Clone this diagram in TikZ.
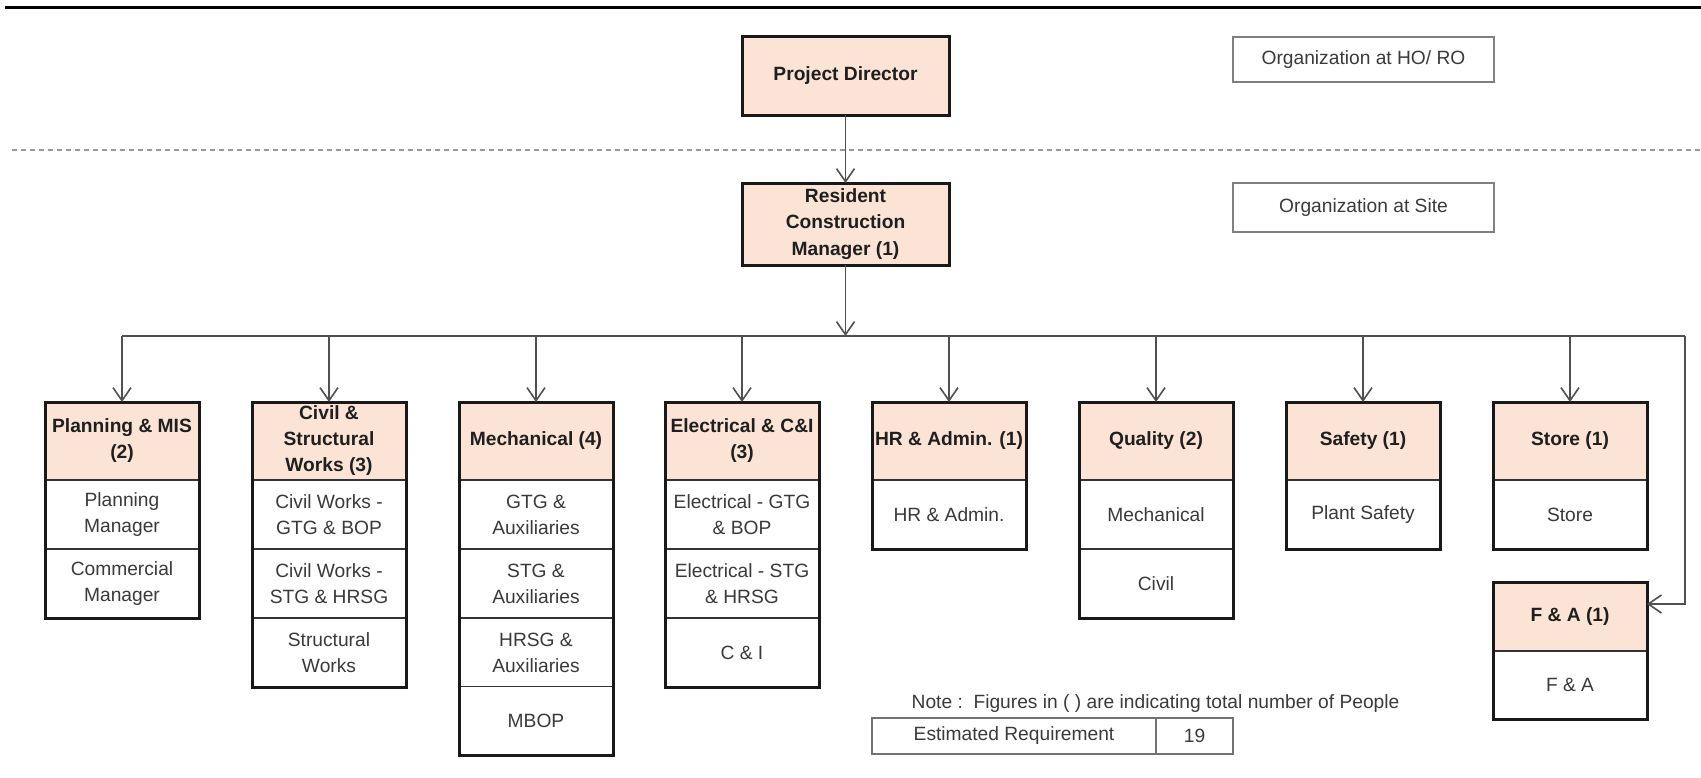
\documentclass[tikz,border=0pt]{standalone}
\usepackage{fontspec}
\setmainfont{Liberation Sans}
\usetikzlibrary{arrows.meta}
\definecolor{peach}{HTML}{FBE4D5}
\definecolor{lnc}{HTML}{505050}
\definecolor{txt}{HTML}{3A3A3A}
\begin{document}
\begin{tikzpicture}[x=0.5pt,y=-0.5pt,
  font=\fontsize{9.6}{13}\selectfont,
  hd/.style={draw=black!85, line width=0.9pt, fill=peach, minimum width=77pt, minimum height=39pt, align=center, inner sep=0pt, outer sep=0pt, font=\fontsize{9.6}{13}\selectfont\bfseries, text=black!88},
  rw/.style={draw=black!80, line width=0.9pt, fill=white, minimum width=77pt, minimum height=34.5pt, align=center, inner sep=0pt, outer sep=0pt, text=txt},
  topbox/.style={draw=black!90, line width=1.5pt, fill=peach, minimum width=103.5pt, align=center, inner sep=0pt, outer sep=0pt, font=\fontsize{9.6}{13.3}\selectfont\bfseries, text=black!88},
  outerbox/.style={draw=black!90, line width=1.5pt},
  orgbox/.style={draw=black!50, line width=1pt, minimum width=130.5pt, align=center, inner sep=0pt, outer sep=0pt, text=txt},
  tbl/.style={draw=black!55, line width=0.9pt, minimum height=18pt, inner sep=0pt, outer sep=0pt, text=txt},
  conn/.style={draw=lnc, line width=0.8pt},
  arr/.style={conn, -{Straight Barb[length=6.5pt,width=9pt,line width=0.8pt]}},
]
\useasboundingbox (0,0) rectangle (1701,777);

% top rule and divider
\draw[line width=1.75pt, black] (5,7.5) -- (1701,7.5);
\draw[draw=black!40, line width=1pt, dash pattern=on 2.5pt off 2pt] (12,149.5) -- (1701,149.5);

% top level
\node[topbox, minimum height=39.5pt] (pd) at (845.5,75.5) {Project Director};
\node[topbox, minimum height=41pt] (rcm) at (845.5,224) {Resident\\Construction\\Manager (1)};
\node[orgbox, minimum height=22.5pt] (ho) at (1363.5,59.5) {Organization at HO/ RO};
\node[orgbox, minimum height=24.5pt] (site) at (1363.5,207.5) {Organization at Site};

% column 1
\node[hd] (h1) at (122,441) {Planning \& MIS\\(2)};
\node[rw] (r1a) at (122,514.5) {Planning\\Manager};
\node[rw] (r1b) at (122,583.5) {Commercial\\Manager};
\draw[outerbox] (h1.north west) rectangle (r1b.south east);
% column 2
\node[hd] (h2) at (329,441) {Civil \&\\Structural\\Works (3)};
\node[rw] (r2a) at (329,514.5) {Civil Works -\\GTG \& BOP};
\node[rw] (r2b) at (329,583.5) {Civil Works -\\STG \& HRSG};
\node[rw] (r2c) at (329,652.5) {Structural\\Works};
\draw[outerbox] (h2.north west) rectangle (r2c.south east);
% column 3
\node[hd] (h3) at (536,441) {Mechanical (4)};
\node[rw] (r3a) at (536,514.5) {GTG \&\\Auxiliaries};
\node[rw] (r3b) at (536,583.5) {STG \&\\Auxiliaries};
\node[rw] (r3c) at (536,652.5) {HRSG \&\\Auxiliaries};
\node[rw] (r3d) at (536,721) {MBOP};
\draw[outerbox] (h3.north west) rectangle (r3d.south east);
% column 4
\node[hd] (h4) at (742,441) {Electrical \& C\&I\\(3)};
\node[rw] (r4a) at (742,514.5) {Electrical - GTG\\\& BOP};
\node[rw] (r4b) at (742,583.5) {Electrical - STG\\\& HRSG};
\node[rw] (r4c) at (742,652.5) {C \& I};
\draw[outerbox] (h4.north west) rectangle (r4c.south east);
% column 5
\node[hd] (h5) at (949,441) {HR \& Admin. (1)};
\node[rw] (r5a) at (949,514.5) {HR \& Admin.};
\draw[outerbox] (h5.north west) rectangle (r5a.south east);
% column 6
\node[hd] (h6) at (1156,441) {Quality (2)};
\node[rw] (r6a) at (1156,514.5) {Mechanical};
\node[rw] (r6b) at (1156,583.5) {Civil};
\draw[outerbox] (h6.north west) rectangle (r6b.south east);
% column 7
\node[hd] (h7) at (1363,441) {Safety (1)};
\node[rw] (r7a) at (1363,514.5) {Plant Safety};
\draw[outerbox] (h7.north west) rectangle (r7a.south east);
% column 8
\node[hd] (h8) at (1570,441) {Store (1)};
\node[rw] (r8a) at (1570,514.5) {Store};
\draw[outerbox] (h8.north west) rectangle (r8a.south east);
% F & A
\node[hd, minimum height=34.5pt] (h9) at (1570,616.5) {F \& A (1)};
\node[rw, minimum height=34pt] (r9a) at (1570,685) {F \& A};
\draw[outerbox] (h9.north west) rectangle (r9a.south east);

% note and table
\node[text=txt, inner sep=0pt] (note) at (1155.5,704) {Note :\ \ Figures in ( ) are indicating total number of People};
\node[tbl, minimum width=142pt] (est) at (1014,736) {Estimated Requirement};
\node[tbl, minimum width=38.5pt] (num) at (1194.5,736) {19};

% connectors
\coordinate (bus) at (845.5,336);
\coordinate (busR) at (1685,336);
\coordinate (faY) at (1685,604);
\draw[arr] (pd.south) -- (rcm.north);
\draw[arr] (rcm.south) -- (bus);
\draw[conn] (h1.north |- bus) -- (busR);
\foreach \h in {h1,h2,h3,h4,h5,h6,h7,h8}{
  \draw[arr] (\h.north |- bus) -- (\h.north);
}
\draw[arr] (busR) -- (faY) -- (h9.east |- faY);
\end{tikzpicture}
\end{document}
